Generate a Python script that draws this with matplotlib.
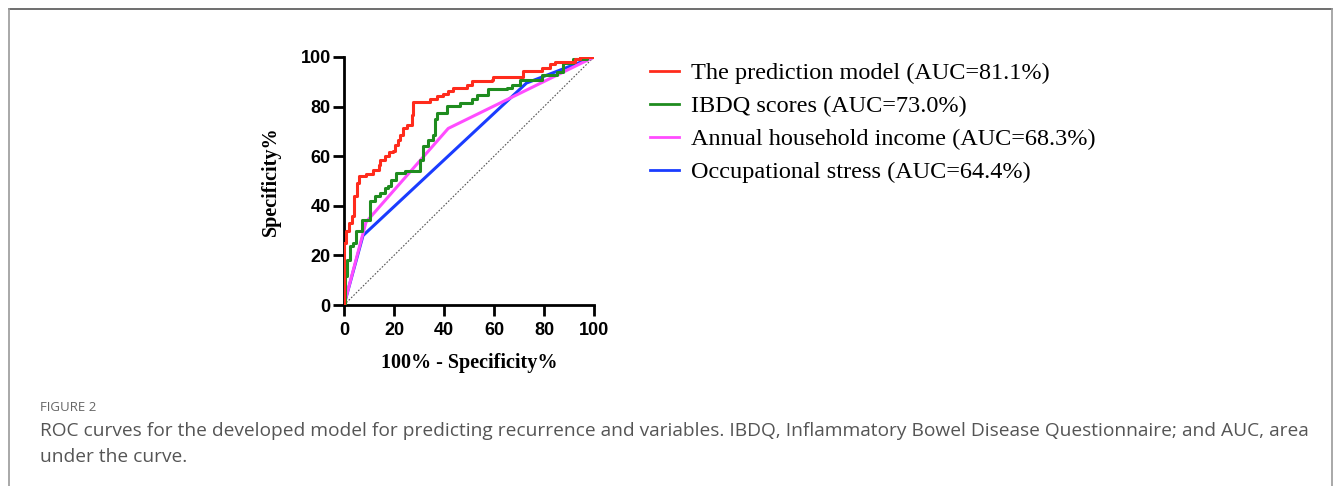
import matplotlib
matplotlib.use("Agg")
import matplotlib.pyplot as plt
from matplotlib.lines import Line2D

# ROC curve vertices (x = 100% - specificity, y = sensitivity)
red_x = [0, 0, 0.8, 2.1, 3.2, 4.0, 5.1, 6.1, 8.8, 10.4, 11.6, 14.0, 14.4, 16.4, 18.0, 19.6, 20.4, 21.5, 22.4, 23.5,
         25.0, 26.7, 27.0, 27.6, 29.0, 33.0, 34.4, 37.0, 39.6, 41.6, 43.7, 47.7, 49.0, 51.0, 59.0, 59.7, 71.0, 71.7,
         78.4, 79.0, 82.4, 84.4, 92.0, 92.4, 94.4, 100]
red_y = [0, 25, 30, 33, 36, 44, 49, 52, 53, 53, 54.6, 56.6, 58.6, 60, 61.5, 62, 64.7, 66.7, 68.7, 71.5,
         72.7, 72.7, 76.8, 81.8, 82, 82, 83.2, 84.2, 85, 86.2, 87.3, 87.3, 88.9, 90.2, 90.6, 92, 92, 94.3,
         94.3, 95.6, 97, 97.9, 97.9, 99.3, 100, 100]

green_x = [0, 0.5, 1.0, 2.3, 3.6, 4.8, 7.2, 10.3, 12.3, 14.3, 16.3, 17.6, 18.9, 20.9, 24.3, 27.7, 30.4, 31.7, 33.7,
           35.7, 36.4, 37.0, 39.7, 41.0, 46.4, 51.0, 53.0, 57.7, 65.0, 67.0, 70.4, 78.4, 79.0, 85.0, 87.7, 91.7,
           97.0, 100]
green_y = [0, 11.6, 18, 23.7, 25, 30, 34.4, 41.8, 43.9, 45.2, 47.3, 47.9, 50.6, 53.3, 54, 54, 58.6, 64, 66.7,
           68.7, 74.8, 77.5, 77.5, 80.2, 81.5, 83.1, 84.5, 86.9, 87.6, 88.9, 90.6, 90.6, 92.9, 93.9, 97.7, 99,
           100, 100]

pink_x = [0, 8.8, 41.7, 100]
pink_y = [0, 33.4, 71.2, 100]

blue_x = [0, 7.6, 73.0, 100]
blue_y = [0, 28.0, 89.5, 100]

labels = ["The prediction model (AUC=81.1%)", "IBDQ scores (AUC=73.0%)",
          "Annual household income (AUC=68.3%)", "Occupational stress (AUC=64.4%)"]
colors = ["#ff2b1c", "#1f8c1f", "#ff4cff", "#1a3cff"]

caption_head = "FIGURE 2"
caption = ("ROC curves for the developed model for predicting recurrence and variables. IBDQ, Inflammatory Bowel "
           "Disease Questionnaire; and AUC, area\nunder the curve.")

fig = plt.figure(figsize=(13.35, 4.86), dpi=100)
ax = fig.add_axes([344 / 1335, 1 - 305 / 486, 250 / 1335, 248 / 486])

ax.plot([0, 100], [0, 100], color="#555555", lw=0.8, ls=(0, (1.5, 1.5)), zorder=1)
ax.plot(blue_x, blue_y, color=colors[3], lw=2.2, zorder=2)
ax.plot(pink_x, pink_y, color=colors[2], lw=2.2, zorder=3)
ax.plot(green_x, green_y, color=colors[1], lw=2.2, drawstyle="steps-post", zorder=4)
ax.plot(red_x, red_y, color=colors[0], lw=2.2, drawstyle="steps-post", zorder=5)

ax.set_xlim(0, 100)
ax.set_ylim(0, 100)
ax.set_xticks(range(0, 101, 20))
ax.set_yticks(range(0, 101, 20))
for s in ["top", "right"]:
    ax.spines[s].set_visible(False)
for s in ["left", "bottom"]:
    ax.spines[s].set_linewidth(2.0)
ax.tick_params(width=2.0, length=8, direction="out", pad=1.5)
ax.tick_params(axis="x", pad=4)
for lab in ax.get_xticklabels() + ax.get_yticklabels():
    lab.set_fontfamily("Liberation Sans")
    lab.set_fontweight("bold")
    lab.set_fontsize(13)

ax.set_xlabel("100% - Specificity%", family="Liberation Serif", weight="bold", fontsize=14.5, labelpad=10)
ax.set_ylabel("Specificity%", family="Liberation Serif", weight="bold", fontsize=14.5, labelpad=14)

handles = [Line2D([], [], color=c, lw=2) for c in colors]
fig.legend(handles, labels, loc="upper left", bbox_to_anchor=(638 / 1335, 1 - 50 / 486), frameon=False,
           prop={"family": "Liberation Serif", "size": 17.5}, handlelength=1.2, handletextpad=0.5,
           labelspacing=0.45, borderpad=0)

fig.text(40 / 1335, 1 - 407 / 486, caption_head, family="Open Sans", fontsize=9.5, color="#666666", va="center")
fig.text(40 / 1335, 1 - 444 / 486, caption, family="Open Sans", fontsize=13.8, color="#555555", va="center",
         linespacing=1.5)

# page frame
fig.add_artist(Line2D([9 / 1335, 1332 / 1335], [1 - 9 / 486, 1 - 9 / 486], color="#555555", lw=1.2))
fig.add_artist(Line2D([9 / 1335, 9 / 1335], [0, 1 - 9 / 486], color="#999999", lw=1.2))
fig.add_artist(Line2D([1332 / 1335, 1332 / 1335], [0, 1 - 9 / 486], color="#999999", lw=1.2))

fig.savefig("out.png", dpi=100)
